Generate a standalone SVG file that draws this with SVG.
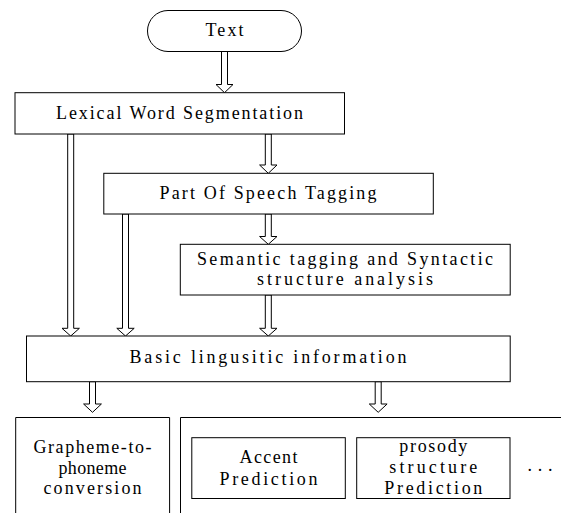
<svg xmlns="http://www.w3.org/2000/svg" width="561" height="513" viewBox="0 0 561 513">
<style>
.box{fill:#fff;stroke:#000;stroke-width:1}
.arr{fill:#fff;stroke:#000;stroke-width:1;stroke-linejoin:miter}
text{font-family:"Liberation Serif","DejaVu Serif",serif;font-size:18px;fill:#000;text-anchor:middle}
</style>
<rect width="561" height="513" fill="#fff"/>
<g id="connectors">
<polygon class="arr" points="221.5,51.5 227.5,51.5 227.5,84.5 233,84.5 224.5,92.7 216,84.5 221.5,84.5"/>
<polygon class="arr" points="265.3,134 271.3,134 271.3,165 277,165 268.3,173.3 259.6,165 265.3,165"/>
<polygon class="arr" points="67.7,134 73.7,134 73.7,328.3 79.4,328.3 70.7,336 62,328.3 67.7,328.3"/>
<polygon class="arr" points="122.5,214 128.5,214 128.5,328.3 134.2,328.3 125.5,336 116.8,328.3 122.5,328.3"/>
<polygon class="arr" points="265.3,214 271.3,214 271.3,236.5 277,236.5 268.3,244.3 259.6,236.5 265.3,236.5"/>
<polygon class="arr" points="265.3,295 271.3,295 271.3,328.3 277,328.3 268.3,336 259.6,328.3 265.3,328.3"/>
<polygon class="arr" points="89.5,381.7 95.5,381.7 95.5,404 101.4,404 92.5,412.3 83.6,404 89.5,404"/>
<polygon class="arr" points="375.2,381.7 381.2,381.7 381.2,404 387.1,404 378.2,412.3 369.3,404 375.2,404"/>
</g>
<g id="text-node">
<rect class="box" x="147.5" y="10.5" width="154" height="41" rx="20.5" ry="20.5"/>
<text x="224.5" y="36" textLength="38" lengthAdjust="spacing">Text</text>
</g>
<g id="lexical">
<rect class="box" x="15" y="92.7" width="329.5" height="41.3"/>
<text x="179.5" y="119" textLength="247" lengthAdjust="spacing">Lexical Word Segmentation</text>
</g>
<g id="pos">
<rect class="box" x="103.8" y="173.3" width="329.5" height="40.7"/>
<text x="268" y="199" textLength="217" lengthAdjust="spacing">Part Of Speech Tagging</text>
</g>
<g id="semantic">
<rect class="box" x="180.3" y="244.3" width="329.9" height="50.7"/>
<text x="345" y="265" textLength="296" lengthAdjust="spacing">Semantic tagging and Syntactic</text>
<text x="345" y="285" textLength="176" lengthAdjust="spacing">structure analysis</text>
</g>
<g id="basic">
<rect class="box" x="26.5" y="336" width="483.7" height="45.7"/>
<text x="268" y="363.3" textLength="277" lengthAdjust="spacing">Basic lingusitic information</text>
</g>
<g id="grapheme">
<path class="box" d="M15.7,514 V417.5 H169.6 V514"/>
<text x="92.5" y="453" textLength="118" lengthAdjust="spacing">Grapheme-to-</text>
<text x="92.5" y="473.5" textLength="68" lengthAdjust="spacing">phoneme</text>
<text x="92.5" y="494" textLength="98" lengthAdjust="spacing">conversion</text>
</g>
<g id="prediction-group">
<path class="box" d="M180.5,514 V417.5 H562"/>
<text x="540" y="471" textLength="25" lengthAdjust="spacing">...</text>
</g>
<g id="accent">
<rect class="box" x="191.8" y="437.7" width="153.5" height="60.8"/>
<text x="268.5" y="463.3" textLength="58" lengthAdjust="spacing">Accent</text>
<text x="268.5" y="485" textLength="98" lengthAdjust="spacing">Prediction</text>
</g>
<g id="prosody">
<rect class="box" x="356.7" y="437.7" width="153.3" height="60.8"/>
<text x="433.3" y="452.3" textLength="68" lengthAdjust="spacing">prosody</text>
<text x="433.3" y="473.3" textLength="88" lengthAdjust="spacing">structure</text>
<text x="433.3" y="494.3" textLength="98" lengthAdjust="spacing">Prediction</text>
</g>
</svg>
